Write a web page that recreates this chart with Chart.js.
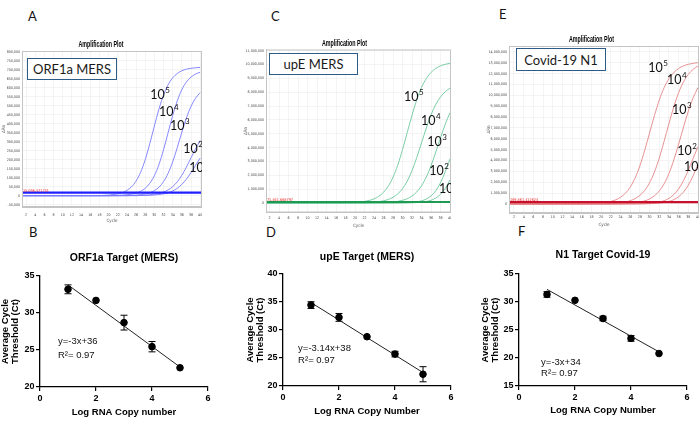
<!DOCTYPE html>
<html>
<head>
<meta charset="utf-8">
<script src="https://cdn.jsdelivr.net/npm/chart.js@4.4.1/dist/chart.umd.min.js"></script>
<style>
  body { margin: 0; width: 700px; height: 429px; overflow: hidden; position: relative; background: #fff; }
  .wrap { position: absolute; }
  .panel { position: absolute; font: 13px Lato, sans-serif; color: #111; line-height: 1; }
  .box { position: absolute; box-sizing: border-box; border: 1.5px solid #2e5a88; background: #fff;
         font: 13px Lato, sans-serif; color: #1a1a1a; display: flex; align-items: center; justify-content: center; z-index: 2; }
</style>
</head>
<body>
<div class="panel" style="left:28px;top:10px">A</div>
<div class="panel" style="left:271px;top:10px">C</div>
<div class="panel" style="left:499px;top:8px">E</div>
<div class="panel" style="left:29px;top:226px">B</div>
<div class="panel" style="left:266px;top:226px">D</div>
<div class="panel" style="left:518px;top:225px">F</div>

<div class="wrap" style="left:0;top:36px;width:202px;height:190px"><canvas id="ampA"></canvas></div>
<div class="wrap" style="left:238px;top:36px;width:213px;height:195px"><canvas id="ampC"></canvas></div>
<div class="wrap" style="left:484px;top:30px;width:215px;height:200px"><canvas id="ampE"></canvas></div>
<div class="wrap" style="left:0;top:240px;width:215px;height:178px"><canvas id="stdB"></canvas></div>
<div class="wrap" style="left:244px;top:240px;width:215px;height:177px"><canvas id="stdD"></canvas></div>
<div class="wrap" style="left:480px;top:240px;width:215px;height:176px"><canvas id="stdF"></canvas></div>

<div class="box" style="left:27px;top:58px;width:90px;height:22px">ORF1a MERS</div>
<div class="box" style="left:269px;top:53px;width:89px;height:22px">upE MERS</div>
<div class="box" style="left:516px;top:48px;width:90px;height:23px">Covid-19 N1</div>

<script>
Chart.defaults.font.family = "'Liberation Sans', Arial, sans-serif";
Chart.defaults.animation = false;
Chart.defaults.responsive = true;
Chart.defaults.maintainAspectRatio = false;

// amplification plots, delta Rn in thousands
const cycles = [1, 10, 16, 20, 21, 22, 23, 24, 25, 26, 27, 28, 29, 30, 31, 32, 33, 34, 35, 36, 37, 38, 39, 40];

const orf1e5 = [0, 0, 0, 3, 6, 10, 17, 29, 49, 81, 130, 200, 289, 387, 481, 559, 616, 655, 679, 694, 703, 708, 711, 713];
const orf1e4 = [0, 0, 0, 0, 1, 2, 3, 5, 8, 14, 24, 41, 69, 111, 173, 255, 350, 445, 527, 589, 632, 659, 676, 686];
const orf1e3 = [0, 0, 0, 0, 0, 0, 1, 1, 2, 3, 6, 10, 16, 28, 47, 78, 124, 188, 267, 353, 432, 496, 542, 573];
const orf1e2 = [0, 0, 0, 0, 0, 0, 0, 0, 1, 1, 2, 3, 5, 8, 12, 20, 32, 50, 77, 113, 159, 210, 261, 307];
const orf1e1 = [0, 0, 0, 0, 0, 0, 0, 0, 0, 0, 1, 1, 2, 4, 6, 10, 16, 26, 41, 63, 92, 128, 169, 209];

const upe1e5 = [0, 0, 6, 42, 68, 112, 184, 299, 483, 774, 1214, 1856, 2744, 3856, 5100, 6344, 7456, 8344, 8986, 9425, 9721, 9904, 10016, 10088];
const upe1e4 = [0, 0, 0, 8, 13, 22, 35, 58, 96, 157, 255, 412, 660, 1035, 1583, 2340, 3289, 4350, 5411, 6360, 7117, 7665, 8039, 8291];
const upe1e3 = [0, 0, 0, 1, 2, 4, 6, 10, 16, 27, 44, 72, 118, 193, 313, 505, 801, 1243, 1873, 2696, 3679, 4721, 5704, 6527];
const upe1e2 = [0, 0, 0, 0, 0, 0, 0, 0, 0, 1, 2, 4, 7, 13, 24, 45, 84, 156, 284, 511, 889, 1471, 2265, 3188];
const upe1e1 = [0, 0, 0, 0, 0, 0, 0, 0, 0, 0, 0, 1, 3, 5, 9, 17, 31, 58, 108, 198, 359, 630, 1061, 1673];

const n11e5 = [0, 0, 12, 88, 144, 236, 384, 621, 994, 1559, 2384, 3524, 4952, 6550, 8148, 9576, 10716, 11541, 12104, 12484, 12720, 12864, 12956, 13012];
const n11e4 = [0, 0, 2, 15, 25, 42, 69, 113, 186, 304, 492, 793, 1258, 1954, 2944, 4237, 5782, 7418, 8963, 10256, 11246, 11946, 12408, 12712];
const n11e3 = [0, 0, 0, 3, 5, 9, 15, 24, 40, 66, 108, 178, 290, 470, 757, 1201, 1865, 2810, 4045, 5519, 7081, 8555, 9790, 10735];
const n11e2 = [0, 0, 0, 0, 0, 1, 1, 2, 4, 7, 11, 20, 34, 60, 104, 179, 306, 519, 865, 1394, 2152, 3126, 4222, 5287];
const n11e1 = [0, 0, 0, 0, 0, 0, 0, 1, 2, 3, 5, 9, 15, 26, 45, 79, 136, 235, 400, 672, 1103, 1743, 2614, 3670];

const thresholdA = 17, thresholdC = 72, thresholdE = 170;
const thresholdTextA = '15,096.371751', thresholdTextC = '71,841.668797', thresholdTextE = '169,861.412624';

// dilution labels (10^5 ... 10) placed on the curves
const dilutionSup = ['5', '4', '3', '2', ''];
const labelCycleA = [29.1, 31.0, 33.4, 36.3, 37.6], labelRnA = [559, 465, 387, 259, 154];
const labelCycleC = [30.3, 33.9, 35.2, 35.6, 37.7], labelRnC = [7653, 5921, 4404, 2310, 1011];
const labelCycleE = [29.7, 33.6, 34.6, 35.7, 37.1], labelRnE = [12523, 11418, 8656, 4880, 3407];

// standard curves
const logCopies = [1, 2, 3, 4, 5];
const ctB = [33.2, 31.7, 28.7, 25.45, 22.6], errB = [0.6, 0, 1.0, 0.7, 0];
const ctD = [34.45, 32.25, 28.8, 25.7, 22.1], errD = [0.6, 0.7, 0, 0.5, 1.35];
const ctF = [31.35, 30.3, 27.05, 23.5, 20.8], errF = [0.5, 0, 0.4, 0.5, 0];
const fitB = [33.8, 22.7], fitD = [34.9, 22.4], fitF = [32.25, 21.1];

const narrow = "'Liberation Sans Narrow', 'DejaVu Sans Condensed', 'Liberation Sans', sans-serif";

function range(a, b, step) {
  const out = [];
  for (let v = a; v <= b + 1e-9; v += step) out.push(v);
  return out;
}

function textPlugin(items, frame) {
  return {
    id: 'textMarks',
    afterDatasetsDraw(chart) {
      const { ctx, chartArea: ca, scales } = chart;
      ctx.save();
      if (frame) {
        ctx.strokeStyle = frame; ctx.lineWidth = 1;
        ctx.strokeRect(ca.left + 0.5, ca.top + 0.5, ca.right - ca.left - 1, ca.bottom - ca.top - 1);
      }
      items.forEach(m => {
        const px = scales.x.getPixelForValue(m.x), py = scales.y.getPixelForValue(m.y);
        ctx.font = m.font; ctx.fillStyle = m.color || '#111';
        ctx.textAlign = 'left'; ctx.textBaseline = m.baseline || 'middle';
        ctx.fillText(m.text, px, py);
        if (m.sup) {
          const w = ctx.measureText(m.text).width;
          ctx.font = m.supFont;
          ctx.fillText(m.sup, px + w + 0.5, py - m.supRise);
        }
      });
      ctx.restore();
    }
  };
}

// condensed bold heading of the instrument plots
function ampTitle(text, cy) {
  return {
    id: 'ampTitle',
    afterDraw(chart) {
      const { ctx, width } = chart;
      ctx.save();
      ctx.translate(width / 2, cy);
      ctx.scale(0.56, 1);
      ctx.font = "bold 9.5px 'Liberation Sans', Arial, sans-serif";
      ctx.fillStyle = '#000'; ctx.textAlign = 'center'; ctx.textBaseline = 'middle';
      ctx.fillText(text, 0, 0);
      ctx.restore();
    }
  };
}

function titlePlugin(text, gap) {
  return {
    id: 'panelTitle',
    afterDraw(chart) {
      const { ctx, chartArea: ca } = chart;
      ctx.save();
      ctx.font = "bold 10.5px 'Liberation Sans', Arial, sans-serif";
      ctx.fillStyle = '#000'; ctx.textAlign = 'center'; ctx.textBaseline = 'middle';
      ctx.fillText(text, (ca.left + ca.right) / 2, ca.top - gap);
      ctx.restore();
    }
  };
}

function errorBars(ct, err) {
  return {
    id: 'errorBars',
    beforeDatasetsDraw(chart) {
      const { ctx, scales: { x, y } } = chart;
      ctx.save(); ctx.strokeStyle = '#000'; ctx.lineWidth = 1;
      logCopies.forEach((lx, i) => {
        if (!err[i]) return;
        const px = x.getPixelForValue(lx);
        const top = y.getPixelForValue(ct[i] + err[i]), bot = y.getPixelForValue(ct[i] - err[i]);
        ctx.beginPath();
        ctx.moveTo(px, top); ctx.lineTo(px, bot);
        ctx.moveTo(px - 3.5, top); ctx.lineTo(px + 3.5, top);
        ctx.moveTo(px - 3.5, bot); ctx.lineTo(px + 3.5, bot);
        ctx.stroke();
      });
      ctx.restore();
    }
  };
}

function ampChart(id, p) {
  const datasets = [{
    data: [{ x: p.xMin, y: p.thr }, { x: p.xMax, y: p.thr }],
    borderColor: p.thrColor, borderWidth: 2.2, pointRadius: 0
  }];
  p.curves.forEach(vals => datasets.push({
    data: cycles.map((c, i) => ({ x: c, y: vals[i] })),
    borderColor: p.color, borderWidth: 0.9, pointRadius: 0, cubicInterpolationMode: 'monotone'
  }));
  const marks = p.labelX.map((x, i) => ({
    text: '10', sup: dilutionSup[i], x, y: p.labelY[i],
    font: '12.5px Lato, sans-serif', supFont: '8px Lato, sans-serif', supRise: 5
  }));
  marks.push({ text: p.thrText, x: p.xMin + 0.2, y: p.thr, font: '3.8px ' + narrow, color: '#ee2222', baseline: 'bottom' });

  return new Chart(document.getElementById(id), {
    type: 'line',
    data: { datasets },
    options: {
      layout: { padding: { top: p.tTop + 8.4 + p.tBottom } },
      scales: {
        x: {
          type: 'linear', min: p.xMin, max: p.xMax,
          afterBuildTicks: s => { s.ticks = range(2, 40, 2).map(v => ({ value: v })); },
          afterFit: s => { s.height = p.xH; s.paddingLeft = 0; s.paddingRight = 0; },
          ticks: { font: { size: 3.6, family: narrow }, color: '#444', padding: p.xPad, maxRotation: 0, autoSkip: false },
          grid: { color: '#ececec', lineWidth: 0.6, drawTicks: false },
          border: { color: '#c4c4c4' },
          title: { display: true, text: 'Cycle', font: { size: 4.5, family: narrow }, color: '#555', padding: { top: 0, bottom: 2.3 } }
        },
        y: {
          min: p.yMin, max: p.yMax,
          afterBuildTicks: s => { s.ticks = p.yTicks.map(v => ({ value: v })); },
          afterFit: s => { s.width = p.yW; s.paddingTop = 0; s.paddingBottom = 0; },
          ticks: { font: { size: 3.6, family: narrow }, color: '#444', padding: 2, autoSkip: false,
                   callback: v => (v * 1000).toLocaleString('en-US') },
          grid: { color: '#ececec', lineWidth: 0.6, drawTicks: false },
          border: { color: '#c4c4c4' },
          title: { display: true, text: 'ΔRn', font: { size: 4.5, family: narrow }, color: '#555', padding: { top: p.yTitlePad } }
        }
      },
      plugins: { legend: { display: false }, tooltip: { enabled: false } }
    },
    plugins: [textPlugin(marks, '#c4c4c4'), ampTitle('Amplification Plot', p.tTop + 4.2)]
  });
}

function stdChart(id, p) {
  const marks = [
    { text: p.eq, x: p.noteX, y: p.eqY, font: "9.5px 'Liberation Sans', Arial, sans-serif" },
    { text: 'R²= 0.97', x: p.noteX, y: p.r2Y, font: "9.5px 'Liberation Sans', Arial, sans-serif" }
  ];
  const tickFont = { size: 9, weight: 'bold' };
  return new Chart(document.getElementById(id), {
    type: 'scatter',
    data: {
      datasets: [
        { data: logCopies.map((x, i) => ({ x, y: p.ct[i] })), pointRadius: 3.3, pointBackgroundColor: '#000', pointBorderColor: '#000' },
        { type: 'line', data: [{ x: logCopies[0], y: p.fit[0] }, { x: logCopies[4], y: p.fit[1] }],
          borderColor: '#222', borderWidth: 1, pointRadius: 0 }
      ]
    },
    options: {
      layout: { padding: { top: p.padTop, right: p.padRight } },
      scales: {
        x: {
          type: 'linear', min: 0, max: 6,
          afterFit: s => { s.height = p.xH; s.paddingLeft = 0; s.paddingRight = 0; },
          ticks: { stepSize: 2, font: tickFont, color: '#000', padding: 2 },
          grid: { drawOnChartArea: false, tickLength: 4, color: '#000', lineWidth: 1.2 },
          border: { color: '#000', width: 1.3 },
          title: { display: true, text: p.xTitle, color: '#000', font: { size: 9.5, weight: 'bold' }, padding: 0 }
        },
        y: {
          min: p.yMin, max: p.yMax,
          afterFit: s => { s.width = p.yW; s.paddingTop = 0; s.paddingBottom = 0; },
          ticks: { stepSize: 5, font: tickFont, color: '#000', padding: 1.5 },
          grid: { drawOnChartArea: false, tickLength: 4, color: '#000', lineWidth: 1.2 },
          border: { color: '#000', width: 1.3 },
          title: { display: true, text: ['Average Cycle', 'Threshold (Ct)'], color: '#000',
                   font: { size: 9.5, weight: 'bold', lineHeight: 1.1 }, padding: { top: p.yTitlePad } }
        }
      },
      plugins: { legend: { display: false }, tooltip: { enabled: false } }
    },
    plugins: [errorBars(p.ct, p.err), textPlugin(marks), titlePlugin(p.title, p.titleGap)]
  });
}

ampChart('ampA', {
  curves: [orf1e5, orf1e4, orf1e3, orf1e2, orf1e1], color: '#7b7bff',
  thr: thresholdA, thrColor: '#2020ff', thrText: thresholdTextA,
  labelX: labelCycleA, labelY: labelRnA,
  xMin: 1.1, xMax: 40.4, yMin: -63, yMax: 804, yTicks: range(-50, 800, 50),
  yW: 22, xH: 19, xPad: 5.5, yTitlePad: 1.3, tTop: 3.8, tBottom: 2.8
});
ampChart('ampC', {
  curves: [upe1e5, upe1e4, upe1e3, upe1e2, upe1e1], color: '#6cc89c',
  thr: thresholdC, thrColor: '#1f9a52', thrText: thresholdTextC,
  labelX: labelCycleC, labelY: labelRnC,
  xMin: 1.26, xMax: 40.2, yMin: -686, yMax: 11083, yTicks: range(0, 11000, 1000),
  yW: 28, xH: 18.5, xPad: 3, yTitlePad: 5.3, tTop: 2.8, tBottom: 2.3
});
ampChart('ampE', {
  curves: [n11e5, n11e4, n11e3, n11e2, n11e1], color: '#e48686',
  thr: thresholdE, thrColor: '#c8102e', thrText: thresholdTextE,
  labelX: labelCycleE, labelY: labelRnE,
  xMin: 0.97, xMax: 40.2, yMin: -829, yMax: 14549, yTicks: range(0, 14000, 1000),
  yW: 25, xH: 17, xPad: 1.6, yTitlePad: 2.3, tTop: 4.8, tBottom: 2.8
});

stdChart('stdB', {
  title: 'ORF1a Target (MERS)', titleGap: 18, xTitle: 'Log RNA Copy number',
  ct: ctB, err: errB, fit: fitB, yMin: 20, yMax: 35,
  eq: 'y=-3x+36', noteX: 0.64, eqY: 26.1, r2Y: 24.3,
  padTop: 36, padRight: 7, yW: 40, xH: 31, yTitlePad: 0
});
stdChart('stdD', {
  title: 'upE Target (MERS)', titleGap: 17, xTitle: 'Log RNA Copy Number',
  ct: ctD, err: errD, fit: fitD, yMin: 20, yMax: 40,
  eq: 'y=-3.14x+38', noteX: 0.54, eqY: 26.8, r2Y: 24.6,
  padTop: 34, padRight: 8, yW: 39, xH: 31, yTitlePad: 1
});
stdChart('stdF', {
  title: 'N1 Target Covid-19', titleGap: 19, xTitle: 'Log RNA Copy Number',
  ct: ctF, err: errF, fit: fitF, yMin: 15, yMax: 35,
  eq: 'y=-3x+34', noteX: 0.79, eqY: 19.3, r2Y: 17.3,
  padTop: 34, padRight: 8, yW: 39, xH: 30, yTitlePad: 0
});
</script>
</body>
</html>
